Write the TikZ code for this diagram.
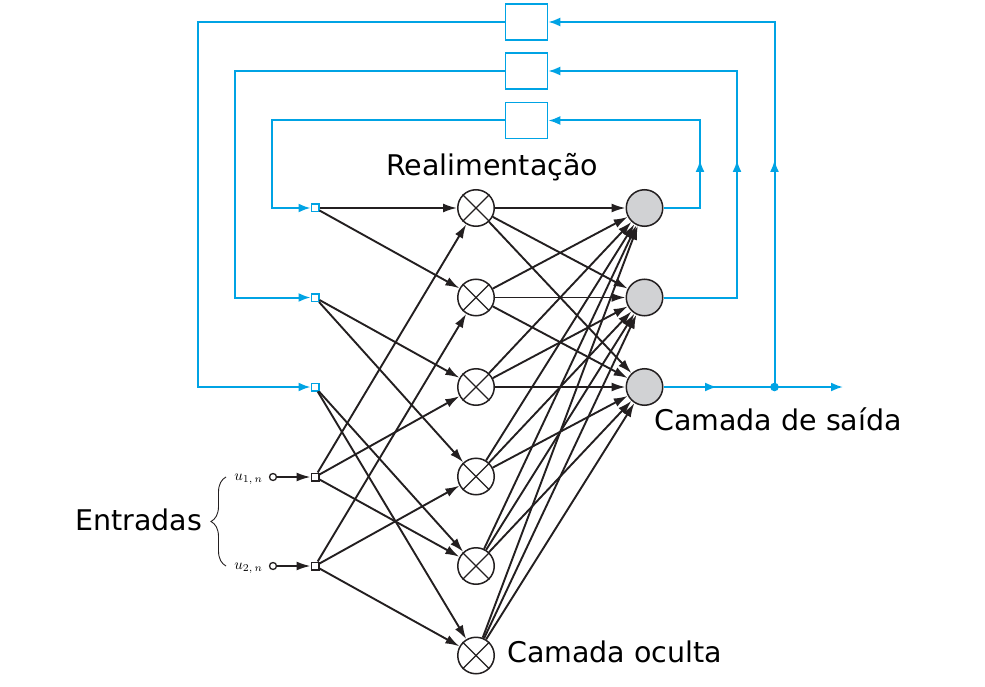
\documentclass[tikz,border=0pt]{standalone}
\usepackage{fontspec}
\newfontfamily\dejavu{DejaVu Sans}
\usetikzlibrary{arrows.meta,decorations.pathreplacing,decorations.markings}
\definecolor{fbblue}{RGB}{0,163,228}
\definecolor{outgrey}{RGB}{209,210,212}
\definecolor{ink}{RGB}{35,31,32}
\begin{document}
\begin{tikzpicture}[x=1pt,y=-1pt,
  hid/.style={circle,draw=ink,line width=1.5pt,minimum size=36.5pt,inner sep=0pt,fill=white},
  outn/.style={circle,draw=ink,line width=1.5pt,minimum size=36.5pt,inner sep=0pt,fill=outgrey},
  fbsq/.style={rectangle,draw=fbblue,line width=1.5pt,minimum size=7.5pt,inner sep=0pt,fill=white},
  insq/.style={rectangle,draw=ink,line width=1.5pt,minimum size=7.5pt,inner sep=0pt,fill=white},
  incirc/.style={circle,draw=ink,line width=1.3pt,minimum size=7pt,inner sep=0pt,fill=white},
  delay/.style={rectangle,draw=fbblue,line width=1.6pt,minimum width=42pt,minimum height=36pt,inner sep=0pt},
  blk/.style={draw=ink,line width=1.9pt,-{Latex[length=14pt,width=9pt]}},
  fb/.style={draw=fbblue,line width=2pt},
  fbarr/.style={fb,-{Latex[length=12pt,width=9pt]}},
  midup/.style={postaction={decorate},decoration={markings,mark=at position #1 with {\arrow{Latex[length=12pt,width=9pt]}}}},
  lbl/.style={font=\dejavu\fontsize{28.5}{33}\selectfont,inner sep=0pt,anchor=base west},
  ulbl/.style={inner sep=0pt,anchor=east,scale=1.5}
]
\useasboundingbox (0,0) rectangle (985,687);

% delay boxes
\node[delay] (B1) at (526.5,22) {};
\node[delay] (B2) at (526.5,71) {};
\node[delay] (B3) at (526.5,120.5) {};

% feedback input squares
\node[fbsq] (F1) at (315,208) {};
\node[fbsq] (F2) at (315,297.5) {};
\node[fbsq] (F3) at (315,387) {};

% external inputs
\node[insq] (I1) at (315,477) {};
\node[insq] (I2) at (315,566) {};
\node[incirc] (C1) at (273,477) {};
\node[incirc] (C2) at (273,566) {};

% hidden layer
\foreach \k/\y in {1/208,2/297.5,3/387,4/476.5,5/566,6/655.5}{
  \node[hid] (H\k) at (476,\y) {};
  \draw[ink,line width=1.3pt] (H\k.north east) -- (H\k.south west) (H\k.north west) -- (H\k.south east);
}

% output layer
\node[outn] (O1) at (644.5,208) {};
\node[outn] (O2) at (644.5,297.5) {};
\node[outn] (O3) at (644.5,387) {};

% corner coordinates for feedback
\coordinate (r1) at (700,120.5);
\coordinate (r2) at (737,71);
\coordinate (r3) at (774.5,22);
\coordinate (l1) at (272,120.5);
\coordinate (l2) at (235,71);
\coordinate (l3) at (198,22);
\coordinate (dot) at (774.5,387);
\coordinate (outend) at (843,387);

% feedback paths (right side)
\draw[fbarr,midup=84.5pt] (O1.east) -| (r1) -- (B3.east);
\draw[fbarr,midup=211pt] (O2.east) -| (r2) -- (B2.east);
\draw[fbarr,midup=227pt] (dot) -- (r3) -- (B1.east);
\draw[fbarr,midup=53.5pt] (O3.east) -- (outend);
\fill[fbblue] (dot) circle (4.3pt);

% feedback paths (left side)
\draw[fbarr] (B3.west) -- (l1) |- (F1.west);
\draw[fbarr] (B2.west) -- (l2) |- (F2.west);
\draw[fbarr] (B1.west) -- (l3) |- (F3.west);

% external input arrows
\draw[blk] (C1.east) -- (I1.west);
\draw[blk] (C2.east) -- (I2.west);

% inputs to hidden
\draw[blk] (F1) -- (H1);
\draw[blk] (F1) -- (H2);
\draw[blk] (F2) -- (H3);
\draw[blk] (F2) -- (H4);
\draw[blk] (F3) -- (H5);
\draw[blk] (F3) -- (H6);
\draw[blk] (I1) -- (H1);
\draw[blk] (I1) -- (H3);
\draw[blk] (I1) -- (H5);
\draw[blk] (I2) -- (H2);
\draw[blk] (I2) -- (H4);
\draw[blk] (I2) -- (H6);

% hidden to output
\foreach \k in {1,...,6}{
  \foreach \j in {1,2,3}{
    \draw[blk] (H\k) -- (O\j);
  }
}

% input labels
\node[ulbl] (u1) at (263,479) {$u_{1,\,n}$};
\node[ulbl] (u2) at (263,568) {$u_{2,\,n}$};
\coordinate (bt) at (226,477);
\coordinate (bb) at (226,566);
\draw[ink,line width=0.9pt,decorate,decoration={brace,amplitude=15pt}] (bb) -- (bt);

% text labels
\node[lbl] (t1) at (386,176) {Realimentação};
\node[lbl] (t2) at (654,430) {Camada de saída};
\node[lbl] (t3) at (507,662) {Camada oculta};
\node[lbl] (t4) at (75,530) {Entradas};
\end{tikzpicture}
\end{document}
